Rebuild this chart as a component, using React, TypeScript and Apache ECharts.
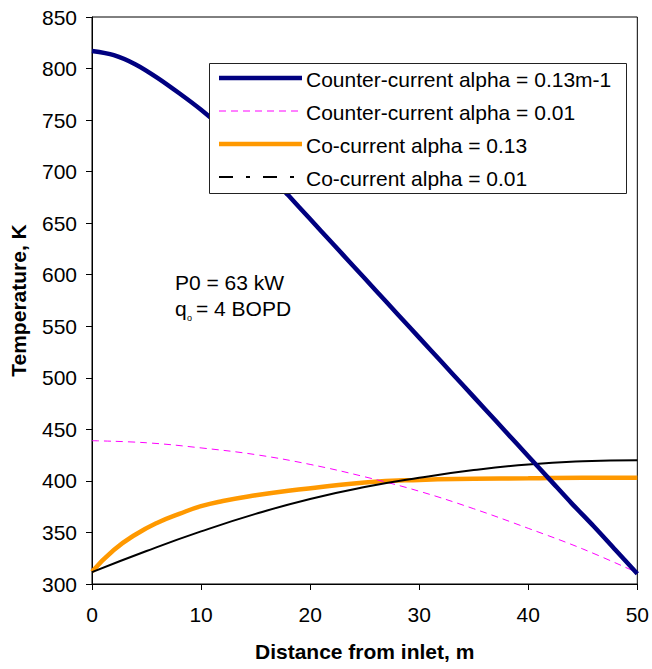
import React, { useEffect, useRef } from "react";
import * as echarts from "echarts";

const xCounter013 = [0, 2, 4, 6, 8, 10, 12, 14, 16, 18, 20, 22, 24, 26, 28, 30, 32, 34, 36, 38, 40, 42, 44, 46, 48, 50];
const tCounter013 = [817, 813, 804, 791, 776, 760, 742, 722, 700, 677, 654, 631, 608, 585, 562, 539, 516, 493, 470, 447, 424, 401, 378, 356, 333, 310];

const xCounter001 = [0, 5, 10, 15, 20, 25, 30, 35, 40, 45, 50];
const tCounter001 = [439, 437, 432, 425.5, 416, 404, 390, 373, 354, 334, 311];

const xCo013 = [0, 2, 4, 6, 8, 10, 12, 15, 18, 21, 25, 30, 35, 40, 45, 50];
const tCo013 = [312, 333, 348, 359.5, 368, 375.5, 380.5, 386, 390.5, 394, 398.5, 401, 402, 402.5, 403, 403];

const xCo001 = [0, 5, 10, 15, 20, 25, 30, 35, 40, 45, 50];
const tCo001 = [311.5, 332, 351, 368, 382.5, 394, 403, 410.5, 416, 419, 420];

const legendNames = [
  "Counter-current alpha = 0.13m-1",
  "Counter-current alpha = 0.01",
  "Co-current alpha = 0.13",
  "Co-current alpha = 0.01",
];

const FONT = "'Liberation Sans', Arial, sans-serif";

function pairs(xs: number[], ys: number[]) {
  return xs.map((x, i) => [x, ys[i]]);
}

export default function App() {
  const ref = useRef<HTMLDivElement>(null);
  useEffect(() => {
    document.body.style.margin = "0";
    if (!ref.current) return;
    const chart = echarts.init(ref.current, null, { renderer: "svg" });

    const legendRows = [
      { y: 78, style: { stroke: "#000080", lineWidth: 4.5 } },
      { y: 111, style: { stroke: "#FF00FF", lineWidth: 1, lineDash: [7, 5] } },
      { y: 144, style: { stroke: "#FF9900", lineWidth: 4.5 } },
      { y: 177, style: { stroke: "#000000", lineWidth: 2, lineDash: [14, 13, 4, 13] } },
    ];

    const graphics: any[] = [
      {
        type: "rect",
        left: 209,
        top: 63,
        shape: { x: 0, y: 0, width: 417, height: 130 },
        style: { fill: "#fff", stroke: "#222", lineWidth: 1 },
        z: 100,
      },
    ];
    legendRows.forEach((r, i) => {
      graphics.push({
        type: "line",
        shape: { x1: 219, y1: r.y, x2: 302, y2: r.y },
        style: { ...r.style },
        z: 101,
      });
      graphics.push({
        type: "text",
        x: 306,
        y: r.y + 1,
        style: {
          text: legendNames[i],
          fontSize: 21,
          fontFamily: FONT,
          fill: "#000",
          verticalAlign: "middle",
          align: "left",
        },
        z: 101,
      });
    });
    graphics.push({
      type: "text",
      x: 175,
      y: 282,
      style: { text: "P0 = 63 kW", fontSize: 21, fontFamily: FONT, fill: "#000", verticalAlign: "middle" },
      z: 101,
    });
    graphics.push({
      type: "text",
      x: 175,
      y: 308,
      style: { text: "q", fontSize: 21, fontFamily: FONT, fill: "#000", verticalAlign: "middle" },
      z: 101,
    });
    graphics.push({
      type: "text",
      x: 187,
      y: 318,
      style: { text: "o", fontSize: 9, fontFamily: FONT, fill: "#000", verticalAlign: "middle" },
      z: 101,
    });
    graphics.push({
      type: "text",
      x: 196,
      y: 308,
      style: { text: "= 4 BOPD", fontSize: 21, fontFamily: FONT, fill: "#000", verticalAlign: "middle" },
      z: 101,
    });

    chart.setOption({
      animation: false,
      backgroundColor: "#fff",
      textStyle: { fontFamily: FONT },
      grid: {
        left: 92,
        top: 17,
        right: 12,
        bottom: 85,
        show: true,
        borderColor: "#000",
        borderWidth: 1,
        backgroundColor: "transparent",
      },
      xAxis: {
        type: "value",
        min: 0,
        max: 50,
        interval: 10,
        name: "Distance from inlet, m",
        nameLocation: "middle",
        nameGap: 57,
        nameTextStyle: { fontSize: 21, fontWeight: "bold", color: "#000", fontFamily: FONT },
        axisLine: { show: true, lineStyle: { color: "#000", width: 1 } },
        axisTick: { show: true, inside: false, length: 6, lineStyle: { color: "#000" } },
        axisLabel: { fontSize: 21, color: "#000", margin: 20, fontFamily: FONT },
        splitLine: { show: false },
      },
      yAxis: {
        type: "value",
        min: 300,
        max: 850,
        interval: 50,
        name: "Temperature, K",
        nameLocation: "middle",
        nameGap: 63,
        nameTextStyle: { fontSize: 21, fontWeight: "bold", color: "#000", fontFamily: FONT },
        axisLine: { show: true, lineStyle: { color: "#000", width: 1 } },
        axisTick: { show: true, inside: false, length: 6, lineStyle: { color: "#000" } },
        axisLabel: { fontSize: 21, color: "#000", margin: 15, fontFamily: FONT },
        splitLine: { show: false },
      },
      series: [
        {
          name: legendNames[0],
          type: "line",
          data: pairs(xCounter013, tCounter013),
          smooth: 0.3,
          showSymbol: false,
          lineStyle: { color: "#000080", width: 4.5 },
          z: 5,
        },
        {
          name: legendNames[1],
          type: "line",
          data: pairs(xCounter001, tCounter001),
          smooth: 0.4,
          showSymbol: false,
          lineStyle: { color: "#FF00FF", width: 1, type: [7, 5] },
          z: 3,
        },
        {
          name: legendNames[2],
          type: "line",
          data: pairs(xCo013, tCo013),
          smooth: 0.5,
          showSymbol: false,
          lineStyle: { color: "#FF9900", width: 4.5 },
          z: 2,
        },
        {
          name: legendNames[3],
          type: "line",
          data: pairs(xCo001, tCo001),
          smooth: 0.5,
          showSymbol: false,
          lineStyle: { color: "#000000", width: 2 },
          z: 4,
        },
      ],
      graphic: graphics,
    });
    return () => chart.dispose();
  }, []);
  return <div ref={ref} style={{ width: 652, height: 669 }} />;
}
